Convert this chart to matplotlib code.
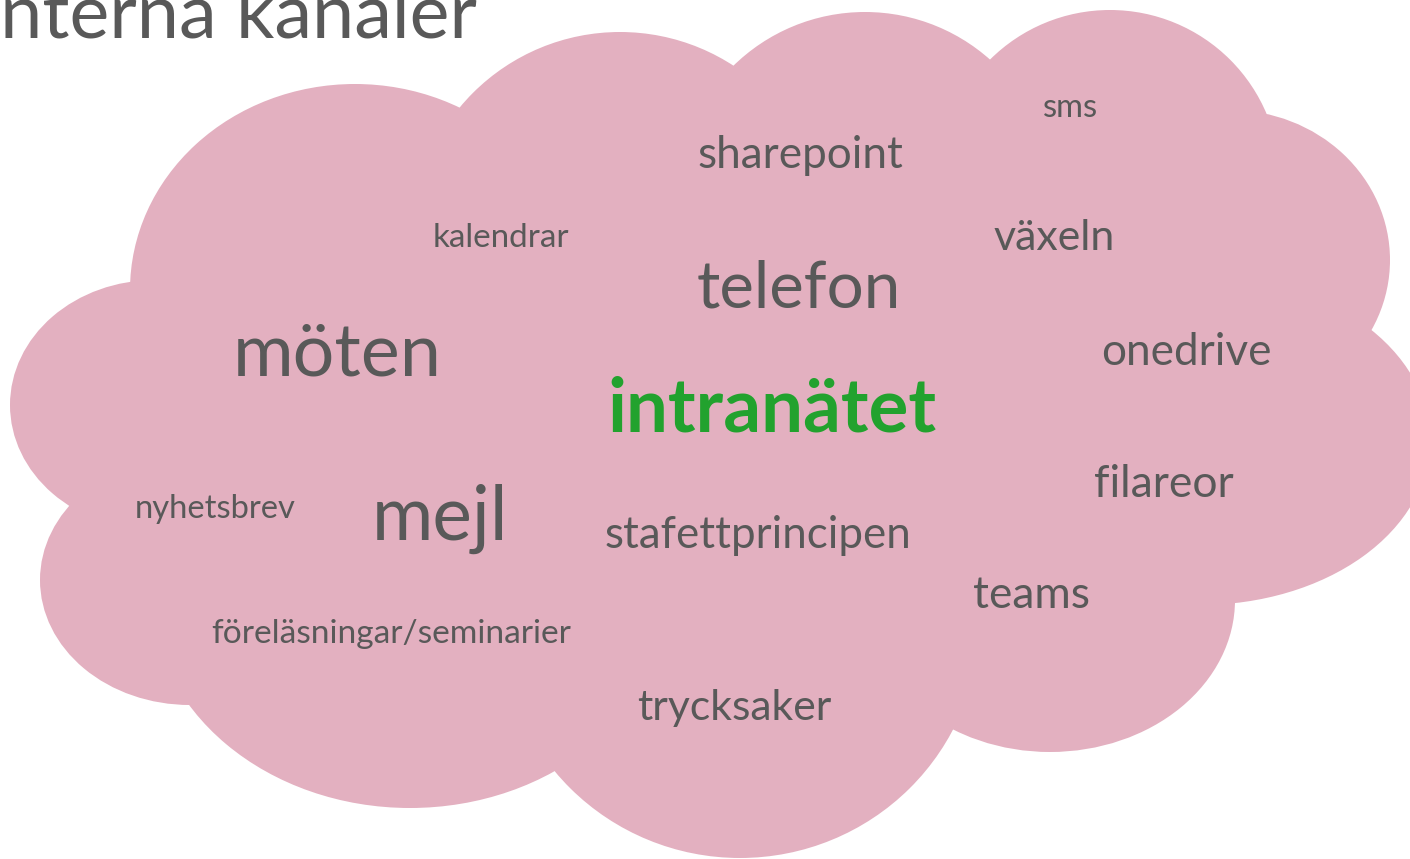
import matplotlib
matplotlib.use('Agg')
import matplotlib.pyplot as plt
from matplotlib.patches import Ellipse

# word cloud data
words = ['sharepoint', 'sms', 'kalendrar', 'växeln', 'telefon', 'möten',
         'onedrive', 'intranätet', 'filareor', 'nyhetsbrev', 'mejl',
         'stafettprincipen', 'teams', 'föreläsningar/seminarier', 'trycksaker']
widths = [206, 55, 137, 122, 205, 209, 171, 329, 140, 162, 137, 307, 117, 361, 195]
title = 'Interna kanaler'

# layout (pixel coordinates of the 1410x859 picture)
word_x = [800, 1070, 501, 1054, 799, 337, 1186, 772, 1164, 215, 440, 758, 1032, 391, 734]
word_y = [168, 117, 247, 250, 308, 375, 365, 432, 497, 518, 540, 548, 608, 643, 720]
# cloud lobes: (cx, cy, w, h)
lobes = [(355, 290, 450, 412), (620, 240, 416, 416), (865, 200, 376, 376),
         (1110, 180, 340, 340), (1230, 260, 320, 300), (1200, 440, 460, 330),
         (1050, 600, 370, 304), (740, 620, 480, 476), (410, 590, 520, 436),
         (190, 580, 300, 250), (155, 405, 290, 250), (700, 440, 1200, 620)]

pink = '#e3b0c0'
grey = '#595959'
green = '#22a22e'

fig = plt.figure(figsize=(14.1, 8.59), dpi=100)
ax = fig.add_axes([0, 0, 1, 1])
ax.set_xlim(0, 1410)
ax.set_ylim(859, 0)
ax.axis('off')

for cx, cy, w, h in lobes:
    ax.add_patch(Ellipse((cx, cy), w, h, color=pink, lw=0))

fig.canvas.draw()
renderer = fig.canvas.get_renderer()

def fit_text(x, y, s, width, ha='center', **kw):
    t = ax.text(x, y, s, ha=ha, va='baseline', fontsize=20, family='Lato', **kw)
    w = t.get_window_extent(renderer).width
    t.set_fontsize(20 * width / w)
    return t

for s, w, x, y in zip(words, widths, word_x, word_y):
    if s == 'intranätet':
        fit_text(x, y, s, w, color=green, fontweight='bold')
    else:
        fit_text(x, y, s, w, color=grey)

# title is cut off at the left edge, as in the slide
t = fit_text(0, 38, title, 500, ha='right', color=grey)
w_I = ax.text(0, 0, 'I', fontsize=t.get_fontsize(), family='Lato')
iw = w_I.get_window_extent(renderer).width
w_I.remove()
t.set_ha('left')
t.set_x(-iw)

fig.savefig('out.png', dpi=100)
